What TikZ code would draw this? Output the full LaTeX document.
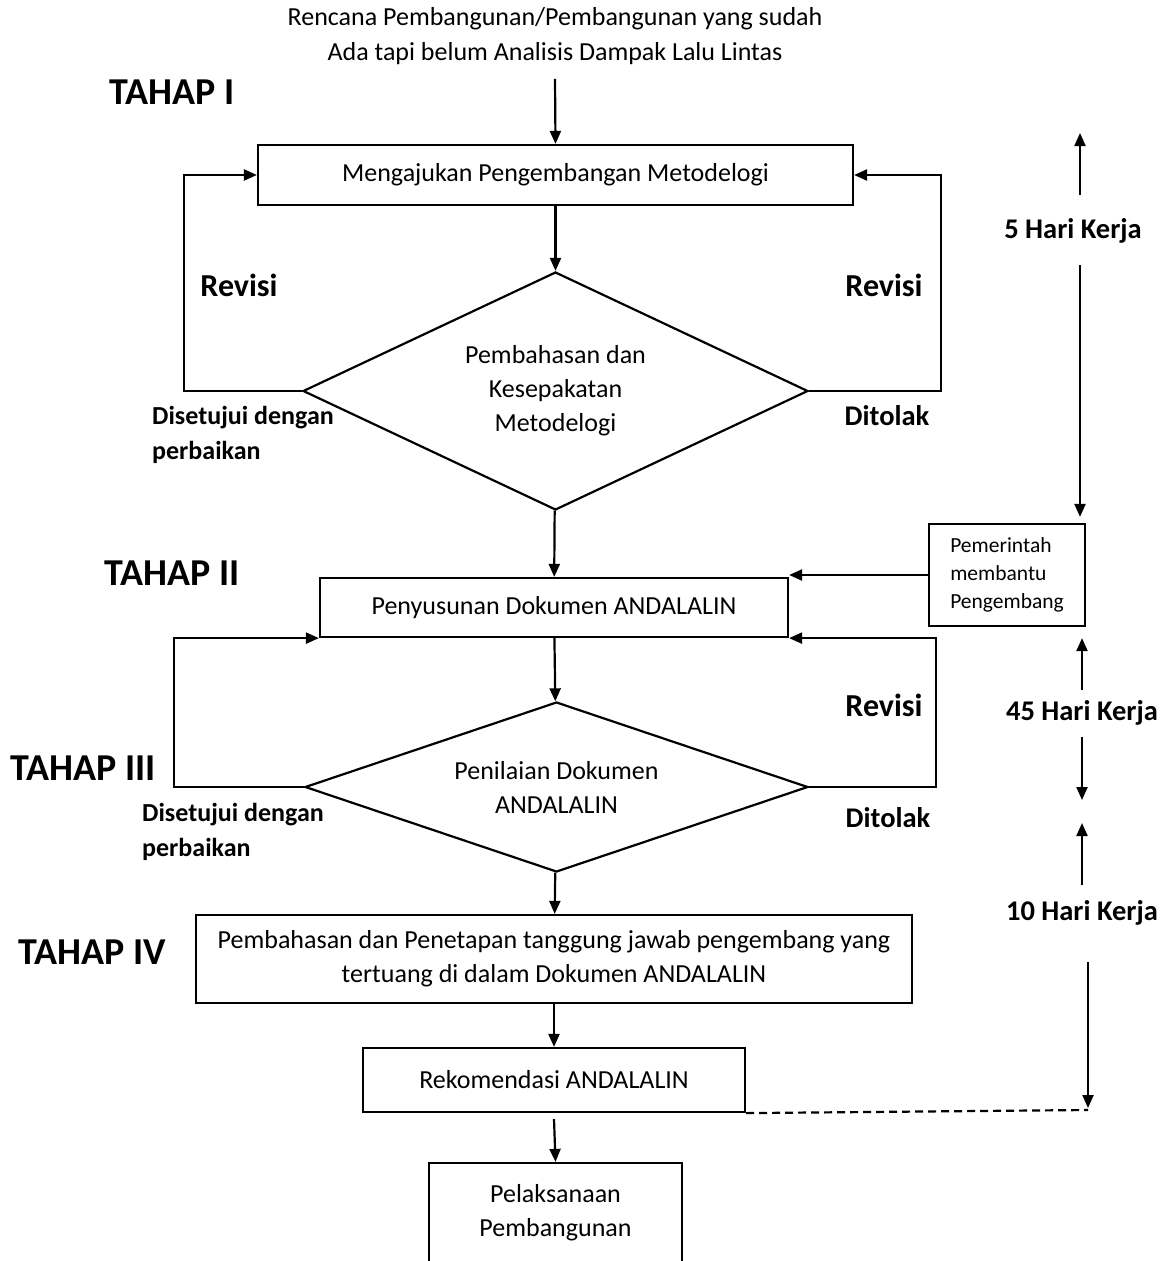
\documentclass[tikz,border=0pt]{standalone}
\usepackage{fontspec}
\setmainfont{Carlito}
\usetikzlibrary{arrows.meta,shapes.geometric,positioning}
\tikzset{
  box/.style={draw, line width=2.2pt, inner sep=0pt, align=center, font=\fontsize{26}{34}\selectfont},
  decision/.style={draw, diamond, line width=2.2pt, inner sep=0pt, align=center, font=\fontsize{26}{34}\selectfont},
  lbl/.style={font=\bfseries\fontsize{28.5}{35}\selectfont, align=left, inner sep=0pt},
  tahap/.style={font=\bfseries\fontsize{38}{40}\selectfont, inner sep=0pt},
  arr/.style={line width=2.2pt, -{Triangle[length=13pt,width=11pt]}},
}
\begin{document}
\begin{tikzpicture}[x=1pt,y=-1pt]
		\useasboundingbox (0,0) rectangle (1172,1261);
		
		% flow boxes
		\node[font=\fontsize{26}{35}\selectfont, align=center, inner sep=0pt] (awal) at (555,36) {Rencana Pembangunan/Pembangunan yang sudah\\Ada tapi belum Analisis Dampak Lalu Lintas};
		\node[box, minimum width=595pt, minimum height=60pt] (ajukan) at (555.5,175) {Mengajukan Pengembangan Metodelogi};
		\node[decision, aspect=2.12, minimum width=505pt, minimum height=238pt] (bahas) at (555.5,391) {Pembahasan dan\\Kesepakatan\\Metodelogi};
		\node[box, minimum width=468pt, minimum height=59pt] (susun) at (554,607.5) {Penyusunan Dokumen ANDALALIN};
		\node[box, align=left, minimum width=156pt, minimum height=102pt, font=\fontsize{21.5}{28}\selectfont] (bantu) at (1007,575) {Pemerintah\\membantu\\Pengembang};
		\node[decision, aspect=2.96, minimum width=503pt, minimum height=170pt] (nilai) at (556.5,787) {Penilaian Dokumen\\ANDALALIN};
		\node[box, minimum width=716pt, minimum height=88pt] (tetap) at (554,959) {Pembahasan dan Penetapan tanggung jawab pengembang yang\\tertuang di dalam Dokumen ANDALALIN};
		\node[box, minimum width=382pt, minimum height=64pt] (rekom) at (554,1080) {Rekomendasi ANDALALIN};
		\node[box, minimum width=253pt, minimum height=100pt] (laksana) at (555.5,1213) {Pelaksanaan\\Pembangunan};
		
		% stage titles
		\node[tahap] (tahap1) at (172,92) {TAHAP I};
		\node[tahap] (tahap2) at (172,573) {TAHAP II};
		\node[tahap] (tahap3) at (83,768) {TAHAP III};
		\node[tahap] (tahap4) at (92,952) {TAHAP IV};
		
		% branch labels
		\node[lbl, font=\bfseries\fontsize{32}{35}\selectfont] (revisi1) at (239,285) {Revisi};
		\node[lbl, font=\bfseries\fontsize{32}{35}\selectfont] (revisi2) at (884,285) {Revisi};
		\node[lbl, font=\bfseries\fontsize{32}{35}\selectfont] (revisi3) at (884,705) {Revisi};
		\node[lbl, anchor=west, font=\bfseries\fontsize{26}{34.5}\selectfont] (setuju1) at (152,435) {Disetujui dengan\\perbaikan};
		\node[lbl, anchor=west, font=\bfseries\fontsize{26}{34.5}\selectfont] (setuju2) at (142,832) {Disetujui dengan\\perbaikan};
		\node[lbl] (tolak1) at (887,416) {Ditolak};
		\node[lbl] (tolak2) at (888,818) {Ditolak};
		
		% working days
		\node[lbl] (hari5) at (1073,231) {5 Hari Kerja};
		\node[lbl] (hari45) at (1082,713) {45 Hari Kerja};
		\node[lbl] (hari10) at (1082,913) {10 Hari Kerja};
		\coordinate (t5) at (1080,133);
		\coordinate (t45) at (1082,800);
		\coordinate (t10) at (1082,823);
		\coordinate (t10b) at (1088,1110);
		
		% main flow
		\draw[arr] (awal.south) ++(0,14) -- (ajukan.north);
		\draw[arr] (ajukan) -- (bahas);
		\draw[arr] (bahas) -- (susun);
		\draw[arr] (susun) -- (nilai);
		\draw[arr] (nilai) -- (tetap);
		\draw[arr] (tetap) -- (rekom);
		\draw[arr] ([yshift=-6pt]rekom.south) -- (laksana.north);
		
		% loops
		\draw[arr] (bahas.west) -- ++(-118,0) |- (ajukan.west);
		\draw[arr] (bahas.east) -- ++(132,0) |- (ajukan.east);
		\draw[arr] (nilai.west) -- ++(-130,0) |- (susun.south west);
		\draw[arr] (nilai.east) -- ++(127,0) |- (susun.south east);
		\draw[arr] (bantu.west) -- (susun.east |- bantu.west);
		
		% time line
		\draw[arr] (1080,195) -- (t5);
		\draw[arr, shorten >=6pt] (1080,265) -- (bantu.north -| t5);
		\draw[arr, shorten >=11pt] (1082,690) -- (bantu.south -| hari45);
		\draw[arr] (1082,737) -- (t45);
		\draw[arr] (1082,885) -- (t10);
		\draw[arr, shorten >=2pt] (1088,962) -- (t10b);
		\draw[line width=2.2pt, dash pattern=on 8pt off 5pt] (rekom.south east) -- (t10b);
	\end{tikzpicture}
\end{document}
